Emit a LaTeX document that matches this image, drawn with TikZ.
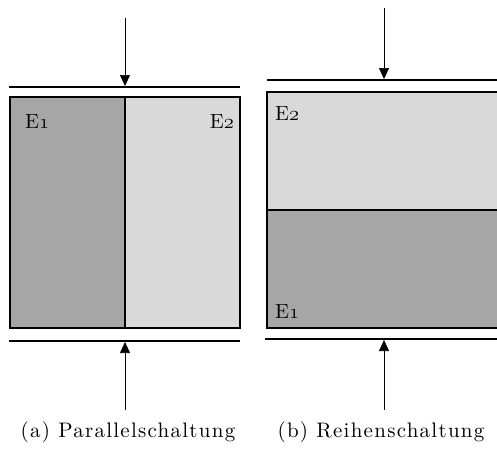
\RequirePackage{fix-cm}
\documentclass[tikz,border=0pt]{standalone}
\usepackage{fontspec}
\usetikzlibrary{arrows.meta}
\newfontfamily\capfont[LetterSpace=6]{lmroman10-regular.otf}
\newcommand\osdigit[1]{{\usefont{OML}{cmm}{m}{it}#1}}
\definecolor{darkfill}{HTML}{A6A6A6}
\definecolor{lightfill}{HTML}{D9D9D9}
\begin{document}
\begin{tikzpicture}[x=1pt,y=-1pt,
  plate/.style={line width=1.6pt},
  frame/.style={draw=black,line width=1.6pt},
  force/.style={line width=0.7pt,-{Triangle[length=11pt,width=10pt]}},
  elabel/.style={inner sep=0pt,font=\capfont\fontsize{20.5}{20.5}\selectfont},
  caption/.style={inner sep=0pt,anchor=base,font=\capfont\fontsize{21}{22}\selectfont}]
\useasboundingbox (0,0) rectangle (497,450);

% ---- (a) parallel arrangement ----
\fill[darkfill] (10,97) rectangle (125,328);
\fill[lightfill] (125,97) rectangle (240,328);
\draw[frame] (10,97) rectangle (240,328);
\draw[line width=1.6pt] (125,97) -- (125,328);
\coordinate (aTopL) at (9,87);  \coordinate (aTopR) at (240,87);
\coordinate (aBotL) at (9,341); \coordinate (aBotR) at (240,341);
\draw[plate] (aTopL) -- (aTopR);
\draw[plate] (aBotL) -- (aBotR);
\coordinate (aTopPlate) at (125,86);
\coordinate (aBotPlate) at (125,342);
\coordinate (aTopStart) at (125,18);
\coordinate (aBotStart) at (125,410);
\draw[force] (aTopStart) -- (aTopPlate);
\draw[force] (aBotStart) -- (aBotPlate);
\node[elabel,anchor=base west] (aE1) at (25,128) {E\osdigit{1}};
\node[elabel,anchor=base east] (aE2) at (234,128) {E\osdigit{2}};
\node[caption] (capA) at (128,437) {(a) Parallelschaltung};

% ---- (b) series arrangement ----
\fill[lightfill] (267,92) rectangle (499,210);
\fill[darkfill] (267,210) rectangle (499,328);
\draw[frame] (267,92) rectangle (499,328);
\draw[line width=1.6pt] (267,210) -- (499,210);
\coordinate (bTopL) at (267,80);  \coordinate (bTopR) at (497,80);
\coordinate (bBotL) at (265,339); \coordinate (bBotR) at (497,339);
\draw[plate] (bTopL) -- (bTopR);
\draw[plate] (bBotL) -- (bBotR);
\coordinate (bTopPlate) at (384,79);
\coordinate (bBotPlate) at (384,340);
\coordinate (bTopStart) at (384,8);
\coordinate (bBotStart) at (384,410);
\draw[force] (bTopStart) -- (bTopPlate);
\draw[force] (bBotStart) -- (bBotPlate);
\node[elabel,anchor=base west] (bE2) at (275,120) {E\osdigit{2}};
\node[elabel,anchor=base west] (bE1) at (275,318) {E\osdigit{1}};
\node[caption] (capB) at (381,437) {(b) Reihenschaltung};
\end{tikzpicture}
\end{document}
